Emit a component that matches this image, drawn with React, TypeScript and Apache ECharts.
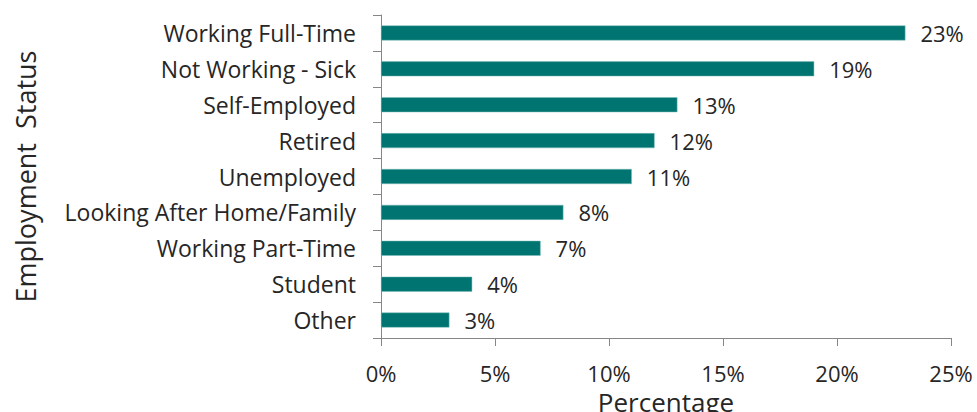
import React, { useEffect, useRef } from "react";
import * as echarts from "echarts";

const categories = [
  "Working Full-Time",
  "Not Working - Sick",
  "Self-Employed",
  "Retired",
  "Unemployed",
  "Looking After Home/Family",
  "Working Part-Time",
  "Student",
  "Other",
];
const values = [23, 19, 13, 12, 11, 8, 7, 4, 3];
const xTicks = [0, 5, 10, 15, 20, 25];

const FONT = "Open Sans";
const TEXT = "#262626";
const AXIS = "#868686";

export default function App() {
  const ref = useRef<HTMLDivElement>(null);
  useEffect(() => {
    if (!ref.current) return;
    const chart = echarts.init(ref.current, undefined, { renderer: "svg" });
    chart.setOption({
      animation: false,
      grid: {
        left: 381,
        right: 26,
        top: 15,
        bottom: 74,
        outerBoundsMode: "none",
        containLabel: false,
      },
      xAxis: {
        type: "value",
        min: xTicks[0],
        max: xTicks[xTicks.length - 1],
        interval: 5,
        name: "Percentage",
        nameLocation: "middle",
        nameGap: 48,
        nameTextStyle: { fontFamily: FONT, fontSize: 26, color: TEXT },
        axisLine: { show: true, lineStyle: { color: AXIS, width: 1 } },
        axisTick: { show: true, length: 8, lineStyle: { color: AXIS } },
        splitLine: { show: false },
        axisLabel: {
          fontFamily: FONT,
          fontSize: 22,
          color: TEXT,
          margin: 24,
          formatter: (v: number) => v + "%",
        },
      },
      yAxis: {
        type: "category",
        data: categories,
        inverse: true,
        name: "Employment  Status",
        nameLocation: "middle",
        nameGap: 342,
        nameRotate: 90,
        nameTextStyle: { fontFamily: FONT, fontSize: 27, color: TEXT },
        axisLine: { show: true, lineStyle: { color: AXIS, width: 1 } },
        axisTick: { show: true, length: 8, lineStyle: { color: AXIS } },
        axisLabel: { fontFamily: FONT, fontSize: 23, color: TEXT, margin: 25 },
      },
      series: [
        {
          type: "bar",
          data: values,
          barWidth: 15,
          itemStyle: { color: "#007470", borderColor: "#7fbfbb", borderWidth: 0.5 },
          label: {
            show: true,
            position: "right",
            distance: 15,
            fontFamily: FONT,
            fontSize: 22,
            color: TEXT,
            formatter: (p: any) => p.value + "%",
          },
        },
      ],
    });
    return () => chart.dispose();
  }, []);
  return (
    <div
      ref={ref}
      style={{ position: "absolute", left: 0, top: 0, width: 977, height: 412 }}
    />
  );
}
